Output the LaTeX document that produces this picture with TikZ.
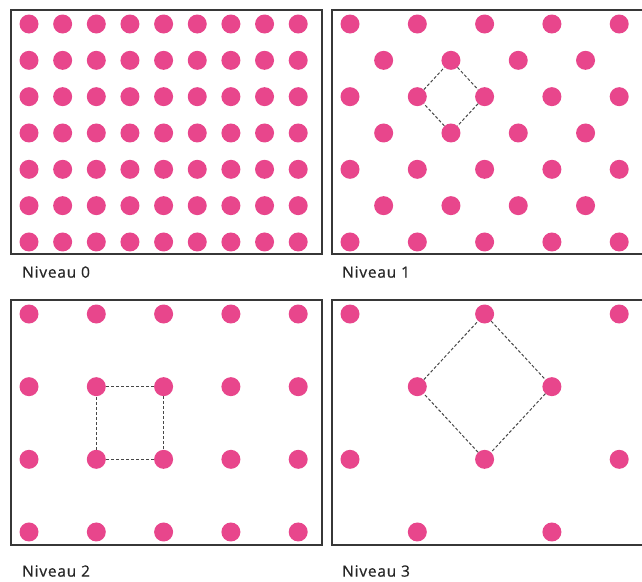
\documentclass[tikz,border=0pt]{standalone}
\usepackage{fontspec}
\setmainfont{Open Sans}
\newfontfamily\lblfont[LetterSpace=5,FakeBold=0.6]{Open Sans}
\usepackage{tikz}
\usetikzlibrary{calc}
\usepackage{xcolor}
\definecolor{dotpink}{RGB}{232,70,140}
\definecolor{framegray}{RGB}{55,55,55}
\tikzset{
  pt/.style={circle, fill=dotpink, draw=none, inner sep=0pt, minimum size=19pt},
  frame/.style={draw=framegray, line width=1.8pt},
  link/.style={draw=black!72, dash pattern=on 3pt off 2pt, line width=1pt},
  lbl/.style={anchor=west, inner sep=0pt, text=black!85,
    font=\lblfont\fontsize{15.5}{17}\selectfont}
}
% one lattice of dots: prefix, left, top, columns, rows
\newcommand{\niveaudots}[5]{%
  \foreach \i in {#4}{%
    \foreach \j in {#5}{%
      \node[pt] (#1-\i-\j) at ({#2+18+33.65*\i},{#3+14+36.33*\j}) {};
    }%
  }%
}

\begin{document}
\begin{tikzpicture}[x=1pt,y=-1pt]
  \useasboundingbox (0,0) rectangle (642,581);
  % frames
  \draw[frame] (11,10) rectangle (322,254);
  \draw[frame] (642,10) -- (332,10) -- (332,254) -- (642,254);
  \draw[frame] (11,300) rectangle (322,545);
  \draw[frame] (642,300) -- (332,300) -- (332,545) -- (642,545);

  % Niveau 0
  \niveaudots{n0}{11}{10}{0,...,8}{0,...,6}
  % Niveau 1
  \niveaudots{n1}{332}{10}{0,2,4,6,8}{0,2,4,6}
  \niveaudots{n1}{332}{10}{1,3,5,7}{1,3,5}
  % Niveau 2
  \niveaudots{n2}{11}{300}{0,2,4,6,8}{0,2,4,6}
  % Niveau 3
  \niveaudots{n3}{332}{300}{0,4,8}{0,4}
  \niveaudots{n3}{332}{300}{2,6}{2,6}

  % cells
  \draw[link] (n1-3-1) -- (n1-4-2) -- (n1-3-3) -- (n1-2-2) -- (n1-3-1);
  \draw[link] (n2-2-2) -- (n2-4-2) -- (n2-4-4) -- (n2-2-4) -- (n2-2-2);
  \draw[link] (n3-4-0) -- (n3-6-2) -- (n3-4-4) -- (n3-2-2) -- (n3-4-0);

  % labels
  \node[lbl] (t0) at (22,272) {Niveau 0};
  \node[lbl] (t1) at (342,272) {Niveau 1};
  \node[lbl] (t2) at (22,571) {Niveau 2};
  \node[lbl] (t3) at (342,571) {Niveau 3};
\end{tikzpicture}
\end{document}
